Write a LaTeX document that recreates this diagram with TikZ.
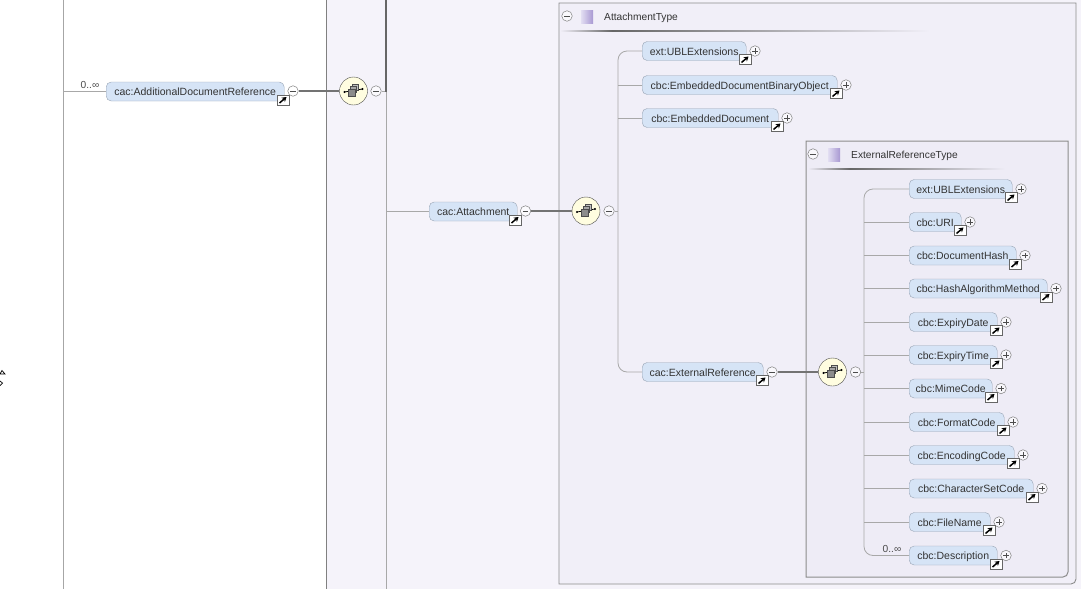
\documentclass[tikz,border=0pt]{standalone}
\usepackage{fontspec}
\usetikzlibrary{arrows.meta}
\setmainfont{Liberation Sans}
\definecolor{panela}{HTML}{F5F3FA}
\definecolor{panelb}{HTML}{F1EFF8}
\definecolor{panelc}{HTML}{EEECF6}
\definecolor{elemfill}{HTML}{D6E4F6}
\definecolor{elemline}{HTML}{98A4B4}
\definecolor{wire}{HTML}{A8A8A8}
\definecolor{framec}{HTML}{8C8C8C}
\definecolor{swatcha}{HTML}{E2DEF2}
\definecolor{swatchb}{HTML}{A898D2}
\tikzset{
    elem/.style={draw=elemline, fill=elemfill, rounded corners=5pt, minimum height=19pt, inner sep=0pt, text height=8pt, text depth=0pt, font=\fontsize{10.5}{12}\selectfont, text=black!80, anchor=west},
    minusbox/.style={circle, draw=black!50, line width=0.5pt, fill=white, fill opacity=0.6, text opacity=1, minimum size=10.5pt, inner sep=0pt, path picture={\draw[black!70] ([xshift=2.5pt]path picture bounding box.west) -- ([xshift=-2.5pt]path picture bounding box.east);}},
    plusbox/.style={minusbox, path picture={\draw[black!70] ([xshift=2.5pt]path picture bounding box.west) -- ([xshift=-2.5pt]path picture bounding box.east); \draw[black!70] ([yshift=2.5pt]path picture bounding box.south) -- ([yshift=-2.5pt]path picture bounding box.north);}},
    seqbox/.style={circle, draw=black!70, fill=yellow!12, minimum size=28pt, inner sep=0pt},
    wireline/.style={draw=wire, line width=0.8pt},
    thickwire/.style={draw=black!55, line width=1.5pt},
    headtext/.style={font=\fontsize{10.2}{12}\selectfont, text=black!80, anchor=west, inner sep=0pt, text height=8pt, text depth=0pt},
    occurs/.style={font=\fontsize{10.2}{12}\selectfont, text=black!70, inner sep=0pt},
    linkicon/.pic={
        \draw[black!60, fill=white] (-6,-5) rectangle (6,5);
        \draw[black, line width=1.5pt, -{Stealth[length=4.5pt,width=5.5pt]}] (-3.5,3) -- (3.5,-3);
    },
    seqicon/.pic={
        \draw[black, line width=0.8pt] (-9,1) -- (9,-2);
        \fill[black] (-9,1) circle[radius=1.2] (9,-2) circle[radius=1.2];
        \draw[black!70, fill=black!25] (-1,-7) rectangle (5,-1);
        \draw[black!70, fill=black!35] (-3,-5) rectangle (3,1);
        \draw[black!70, fill=black!45] (-5,-2) rectangle (2,5);
    },
    swatch/.pic={
        \shade[left color=swatcha, right color=swatchb, draw=none] (0,0) rectangle (12,13);
    }
}
\begin{document}
\begin{tikzpicture}[x=1pt,y=-1pt]
    \useasboundingbox (0,0) rectangle (1081,589);
    % panels
    \fill[panela] (326,0) rectangle (1081,589);
    \draw[framec, line width=0.9pt, fill=panelb] (559,3) -- (1076,3) [rounded corners=5pt] -- (1076,584) [sharp corners] -- (559,584) -- cycle;
    \draw[framec, line width=1pt, fill=panelc] (806,141) -- (1068,141) [rounded corners=5pt] -- (1068,577) [sharp corners] -- (806,577) -- cycle;
    \draw[black!35, line width=0.9pt] (63,0) -- (63,589);
    \draw[black!50, line width=1pt] (326,0) -- (326,589);
    \draw[wire, line width=1pt] (386,91) -- (386,589);
    % stray mark at the left edge
    \draw[black, line width=0.7pt] (0,374) -- (2,370.5) -- (5,374) -- cycle;
    \draw[black, line width=0.7pt] (0,381) -- (2.5,383) -- (0,385.5);

    % headers
    \node[minusbox] (attminus) at (567,16) {};
    \pic at (581,10) {swatch};
    \node[headtext] (atttype) at (604,16) {AttachmentType};
    \shade[left color=panelb, right color=black!60] (560,30) rectangle (612,31);
    \shade[left color=black!60, right color=panelb] (612,30) rectangle (930,31);
    \node[minusbox] (extminus) at (813,154) {};
    \pic at (828,148) {swatch};
    \node[headtext] (exttype) at (851,154) {ExternalReferenceType};
    \shade[left color=panelc, right color=black!60] (808,168) rectangle (850,169);
    \shade[left color=black!60, right color=panelc] (850,168) rectangle (1005,169);

    % first level
    \node[elem, minimum width=178pt] (addref) at (106,91.5) {cac:AdditionalDocumentReference};
    \node[minusbox] (addminus) at (293,91) {};
    \node[seqbox] (seqa) at (353.5,91) {};
    \node[minusbox] (seqaminus) at (376,91) {};
    \coordinate (topa) at (386,0);
    \coordinate (addleft) at (63,91.5);
    \node[occurs] (addocc) at (90,85) {0..∞};
    \draw[wireline] (addleft) -- (addref);
    \draw[thickwire] (addminus) -- (seqa);
    \draw[wireline] (seqaminus) -- (386,91);
    \draw[black!60, line width=1.5pt] (386,91.7) -- (topa);
    \pic at (283,100) {linkicon};
    \pic at (353.5,91) {seqicon};

    \node[elem, minimum width=88pt] (attach) at (429,211.5) {cac:Attachment};
    \node[minusbox] (attachminus) at (525.5,211) {};
    \node[seqbox] (seqb) at (586,211) {};
    \node[minusbox] (seqbminus) at (609,211) {};
    \draw[wireline] (386,211.5) -- (attach);
    \draw[thickwire] (attachminus) -- (seqb);
    \pic at (515,220) {linkicon};
    \pic at (586,211) {seqicon};

    % children of the attachment
    \coordinate (busb) at (618,211);
    \draw[wireline] (seqbminus) -- (busb);
    \foreach \nm/\lab/\yy/\ww/\kn in {ubla/ext:UBLExtensions/51/104/plusbox, embobj/cbc:EmbeddedDocumentBinaryObject/85/195/plusbox, embdoc/cbc:EmbeddedDocument/118/136/plusbox, extref/cac:ExternalReference/372/121/minusbox} {
        \node[elem, minimum width=\ww pt] (\nm) at (642,\yy) {\lab};
        \node[\kn] (\nm-knob) at (642+\ww+9,\yy) {};
        \pic at (642+\ww-1,\yy+8.5) {linkicon};
    }
    \draw[wireline, rounded corners=9pt] (ubla.west) -- (618,51) -- (618,372) -- (extref.west);
    \draw[wireline] (618,85) -- (embobj.west);
    \draw[wireline] (618,118) -- (embdoc.west);

    \node[seqbox] (seqc) at (832.5,372) {};
    \node[minusbox] (seqcminus) at (855.5,372) {};
    \draw[thickwire] (extref-knob) -- (seqc);
    \pic at (832.5,372) {seqicon};

    % children of the external reference
    \foreach \nm/\lab/\yy/\ww in {ublb/ext:UBLExtensions/189/103, uri/cbc:URI/222/52, dochash/cbc:DocumentHash/255.5/107, hashalg/cbc:HashAlgorithmMethod/288.5/138, expdate/cbc:ExpiryDate/322/88, exptime/cbc:ExpiryTime/355/88, mime/cbc:MimeCode/388.5/83, format/cbc:FormatCode/422/95, encoding/cbc:EncodingCode/455/105, charset/cbc:CharacterSetCode/488.5/124, filename/cbc:FileName/522/81, descr/cbc:Description/555.5/88} {
        \node[elem, minimum width=\ww pt] (\nm) at (909,\yy) {\lab};
        \node[plusbox] (\nm-knob) at (909+\ww+9,\yy) {};
        \pic at (909+\ww-1,\yy+8.5) {linkicon};
    }
    \draw[wireline] (seqcminus) -- (864,372);
    \draw[wireline, rounded corners=9pt] (ublb.west) -- (864,189) -- (864,555.5) -- (descr.west);
    \foreach \nm in {uri, dochash, hashalg, expdate, exptime, mime, format, encoding, charset, filename} {
        \draw[wireline] (\nm.west -| 864,0) -- (\nm.west);
    }
    \node[occurs] (descrocc) at (892,549) {0..∞};
\end{tikzpicture}
\end{document}
